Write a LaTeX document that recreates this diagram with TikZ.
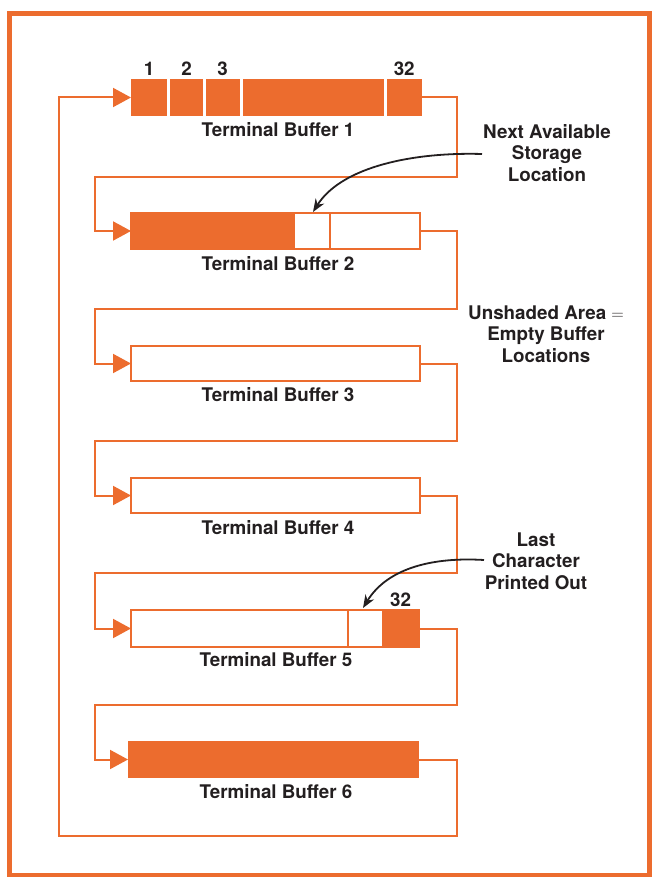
\documentclass[tikz,border=0pt]{standalone}
\usepackage{fontspec}
\setmainfont{TeX Gyre Heros}
\usetikzlibrary{arrows.meta,calc}
\definecolor{hporange}{RGB}{236,108,46}
\definecolor{ink}{RGB}{35,31,32}
\begin{document}
\begin{tikzpicture}[x=1pt,y=-1pt,
  every node/.style={inner sep=0pt,outer sep=0pt},
  lbl/.style={font=\fontsize{18.8}{21.5}\selectfont\bfseries,text=ink,align=center},
  bufbox/.style={draw=hporange,line width=2pt,minimum height=36pt,anchor=north west},
  cellfill/.style={fill=hporange,anchor=north west},
  conn/.style={draw=hporange,line width=2pt},
  intip/.style={-{Triangle[length=18pt,width=19pt]}},
  pointer/.style={draw=ink,line width=1.8pt,-{Stealth[length=13pt,width=10pt]}}]
\useasboundingbox (0,0) rectangle (652,877);
\draw[hporange,line width=5pt] (9.5,13.5) rectangle (649.5,875.5);

% guide coordinates for connector columns
\coordinate (R) at (457,0);
\coordinate (L) at (95,0);
\coordinate (LL) at (58.5,0);

% Buffer 1
\node[anchor=north west,minimum width=290.7pt,minimum height=37pt] (b1) at (131,79) {};
\node[cellfill,minimum width=36pt,minimum height=37pt] (c11) at (131,79) {};
\node[cellfill,minimum width=33pt,minimum height=37pt] (c12) at (170,79) {};
\node[cellfill,minimum width=34pt,minimum height=37pt] (c13) at (205.7,79) {};
\node[cellfill,minimum width=141.3pt,minimum height=37pt] (c14) at (242.7,79) {};
\node[cellfill,minimum width=35pt,minimum height=37pt] (c15) at (386.7,79) {};
\node[lbl,anchor=south] (n1) at ($(c11.north)+(0,-3)$) {1};
\node[lbl,anchor=south] (n2) at ($(c12.north)+(0,-3)$) {2};
\node[lbl,anchor=south] (n3) at ($(c13.north)+(0,-3)$) {3};
\node[lbl,anchor=south] (n32) at ($(c15.north)+(0,-3)$) {32};
\node[lbl] (t1) at (278,130) {Terminal Buffer 1};

% Buffer 2
\node[cellfill,minimum width=164pt,minimum height=36pt] (f2) at (131,213) {};
\node[bufbox,minimum width=289pt] (b2) at (131,213) {};
\draw[hporange,line width=2pt] (330,213) -- (330,249);
\node[lbl] (t2) at (278,264) {Terminal Buffer 2};

% Buffer 3
\node[bufbox,minimum width=289pt,minimum height=35pt] (b3) at (131,346) {};
\node[lbl] (t3) at (278,395) {Terminal Buffer 3};

% Buffer 4
\node[bufbox,minimum width=289pt,minimum height=35pt] (b4) at (131,478) {};
\node[lbl] (t4) at (278,528) {Terminal Buffer 4};

% Buffer 5
\node[cellfill,minimum width=37pt,minimum height=37pt] (f5) at (382,610) {};
\node[bufbox,minimum width=288pt,minimum height=37pt] (b5) at (131,610) {};
\draw[hporange,line width=2pt] (347.5,610) -- (347.5,647);
\node[lbl,anchor=south] (n532) at ($(f5.north)+(0,-3)$) {32};
\node[lbl] (t5) at (276,660) {Terminal Buffer 5};

% Buffer 6
\node[cellfill,minimum width=291pt,minimum height=37pt] (b6) at (128,741) {};
\node[lbl] (t6) at (276,792) {Terminal Buffer 6};

% connectors
\coordinate (g1) at (0,177);
\coordinate (g2) at (0,309);
\coordinate (g3) at (0,441);
\coordinate (g4) at (0,573);
\coordinate (g5) at (0,705);
\coordinate (g6) at (0,836);
\draw[conn,intip] (b1.east) -| (R |- g1) -| (L |- b2.west) -- (b2.west);
\draw[conn,intip] (b2.east) -| (R |- g2) -| (L |- b3.west) -- (b3.west);
\draw[conn,intip] (b3.east) -| (R |- g3) -| (L |- b4.west) -- (b4.west);
\draw[conn,intip] (b4.east) -| (R |- g4) -| (L |- b5.west) -- (b5.west);
\draw[conn,intip] (b5.east) -| (R |- g5) -| (L |- b6.west) -- (b6.west);
\draw[conn,intip] (b6.east) -| (R |- g6) -| (LL |- b1.west) -- (b1.west);

% annotations
\node[lbl] (nas) at (547,153) {Next Available\\Storage\\Location};
\node[lbl] (ua) at (546,334) {Unshaded Area $=$\\Empty Buffer\\Locations};
\node[lbl] (lc) at (536,561) {Last\\Character\\Printed Out};
\coordinate (p1s) at (482,154);
\coordinate (p1e) at (313,212);
\coordinate (p2s) at (484,560);
\coordinate (p2e) at (363,608);
\draw[pointer] (p1s) .. controls (415,152) and (342,166) .. (p1e);
\draw[pointer] (p2s) .. controls (435,557) and (388,567) .. (p2e);
\end{tikzpicture}
\end{document}
